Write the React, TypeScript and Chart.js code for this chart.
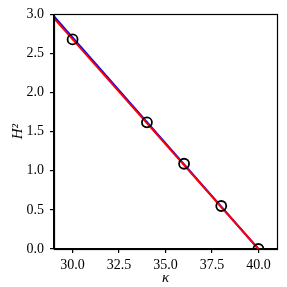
import React, { useEffect, useRef } from "react";
import { Chart, registerables } from "chart.js";
Chart.register(...registerables);

const kappa = [30, 34, 36, 38, 40];
const h2 = [2.68, 1.62, 1.09, 0.55, 0.0];
const blueX = [29, 40];
const blueY = [2.975, 0.0];
const redX = [29, 40];
const redY = [2.95, 0.0];
const xTicks = [30, 32.5, 35, 37.5, 40];
const yTicks = [0, 0.5, 1, 1.5, 2, 2.5, 3];

const FONT = "'Liberation Serif', 'Times New Roman', serif";

const frame = {
  id: "frame",
  afterDatasetsDraw(chart: any) {
    const { ctx, chartArea: a } = chart;
    ctx.save();
    ctx.strokeStyle = "#000";
    ctx.lineWidth = 1.2;
    ctx.strokeRect(Math.round(a.left) + 0.5, Math.round(a.top) + 0.5, Math.round(a.right - a.left), Math.round(a.bottom - a.top));
    ctx.restore();
  },
};

export default function App() {
  const ref = useRef<HTMLCanvasElement>(null);
  useEffect(() => {
    document.body.style.margin = "0";
    const chart = new Chart(ref.current!, {
      type: "scatter",
      data: {
        datasets: [
          {
            data: kappa.map((x, i) => ({ x, y: h2[i] })),
            showLine: false,
            pointStyle: "circle",
            pointRadius: 5,
            pointBorderWidth: 1.8,
            borderColor: "#000",
            backgroundColor: "rgba(0,0,0,0)",
            order: 0,
          },
          {
            data: redX.map((x, i) => ({ x, y: redY[i] })),
            showLine: true,
            borderColor: "#ff0000",
            borderWidth: 2,
            pointRadius: 0,
            order: 1,
          },
          {
            data: blueX.map((x, i) => ({ x, y: blueY[i] })),
            showLine: true,
            borderColor: "#0000ff",
            borderWidth: 2,
            pointRadius: 0,
            order: 2,
          },
        ],
      },
      options: {
        animation: false,
        responsive: false,
        layout: { padding: { top: 10, right: 10, left: 0, bottom: 0 } },
        plugins: { legend: { display: false }, tooltip: { enabled: false } },
        scales: {
          x: {
            type: "linear",
            min: 29,
            max: 41,
            afterBuildTicks: (s: any) => { s.ticks = xTicks.map((v) => ({ value: v })); },
            afterFit: (s: any) => { s.height = 38; },
            grid: { drawOnChartArea: false, drawTicks: true, tickLength: 4, color: "#000", lineWidth: 1.2 },
            border: { display: true, color: "#000", width: 1.2 },
            ticks: { color: "#000", font: { family: FONT, size: 14 }, padding: 4, maxRotation: 0, callback: (v: any) => Number(v).toFixed(1) },
            title: { display: true, text: "κ", color: "#000", font: { family: FONT, size: 15, style: "italic" }, padding: { top: 0, bottom: 0 } },
          },
          y: {
            type: "linear",
            min: 0,
            max: 3,
            afterBuildTicks: (s: any) => { s.ticks = yTicks.map((v) => ({ value: v })); },
            afterFit: (s: any) => { s.width = 54; },
            grid: { drawOnChartArea: false, drawTicks: true, tickLength: 4, color: "#000", lineWidth: 1.2 },
            border: { display: true, color: "#000", width: 1.2 },
            ticks: { color: "#000", font: { family: FONT, size: 14 }, padding: 6, callback: (v: any) => Number(v).toFixed(1) },
            title: { display: true, text: "H²", color: "#000", font: { family: FONT, size: 15, style: "italic" }, padding: { top: 9, bottom: 0 } },
          },
        },
      },
      plugins: [frame],
    });
    return () => chart.destroy();
  }, []);
  return (
    <div style={{ width: 287, height: 287 }}>
      <canvas ref={ref} width={287} height={287} style={{ width: 287, height: 287, display: "block" }} />
    </div>
  );
}
